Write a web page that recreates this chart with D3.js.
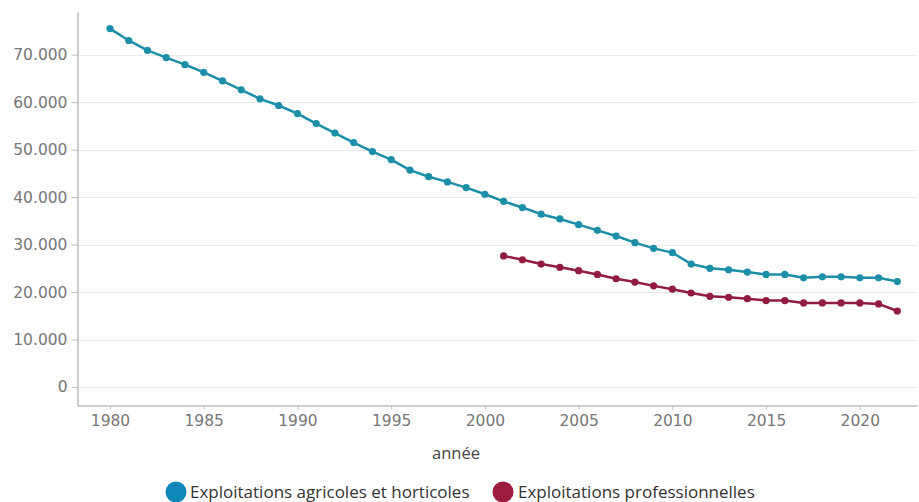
<!DOCTYPE html>
<html>
<head>
<meta charset="utf-8">
<script src="https://cdn.jsdelivr.net/npm/d3@7"></script>
<style>
  body { margin: 0; background: #fff; }
  svg { display: block; }
</style>
</head>
<body>
<svg id="chart" width="919" height="502"></svg>
<script>
// Number of farms per year
const yearsAll = d3.range(1980, 2023);
const agricoles = [
  75500, 73000, 70900, 69400, 67900, 66300, 64500, 62600, 60700, 59300,
  57600, 55500, 53500, 51500, 49600, 47900, 45700, 44300, 43200, 42000,
  40600, 39100, 37800, 36400, 35400, 34200, 33000, 31800, 30400, 29200,
  28300, 25900, 25000, 24700, 24200, 23700, 23700, 23000, 23200, 23200,
  23000, 23000, 22200
];
const yearsPro = d3.range(2001, 2023);
const professionnelles = [
  27600, 26800, 25900, 25200, 24500, 23700, 22800, 22100, 21300, 20600,
  19800, 19100, 18900, 18600, 18200, 18200, 17700, 17700, 17700, 17700,
  17500, 16000
];
const yTicks = [0, 10000, 20000, 30000, 40000, 50000, 60000, 70000];
const xTicks = [1980, 1985, 1990, 1995, 2000, 2005, 2010, 2015, 2020];
const seriesNames = ["Exploitations agricoles et horticoles", "Exploitations professionnelles"];
const xTitle = "année";

const lineColors = ["#1b8ea8", "#921b40"];
const legendColors = ["#1186b9", "#9c1c3e"];

const svg = d3.select("#chart");
const plotLeft = 77, plotRight = 917, plotTop = 12, plotBottom = 405;

const x = d3.scaleLinear().domain([1978.24, 2023.05]).range([plotLeft, plotRight]);
const y = d3.scaleLinear().domain([-3800, 79000]).range([plotBottom, plotTop]);

// horizontal gridlines
svg.append("g")
  .selectAll("line")
  .data(yTicks)
  .join("line")
  .attr("x1", plotLeft).attr("x2", plotRight)
  .attr("y1", d => Math.round(y(d)) + 0.5).attr("y2", d => Math.round(y(d)) + 0.5)
  .attr("stroke", "#ebebeb").attr("stroke-width", 1);

const fmt = d => d3.format(",")(d).replace(/,/g, ".");
const tickFont = "'DejaVu Sans', sans-serif";

// y axis
const gy = svg.append("g")
  .attr("transform", `translate(${plotLeft + 0.5},0)`)
  .call(d3.axisLeft(y).tickValues(yTicks).tickFormat(fmt).tickSize(6).tickSizeOuter(0).tickPadding(4));
gy.select(".domain").attr("stroke", "#bdbdbd").attr("stroke-width", 1.5);
gy.selectAll(".tick line").attr("stroke", "#bdbdbd");
gy.selectAll("text").attr("fill", "#777").style("font-family", tickFont).style("font-size", "15.5px");

// x axis
const gx = svg.append("g")
  .attr("transform", `translate(0,${plotBottom + 0.5})`)
  .call(d3.axisBottom(x).tickValues(xTicks).tickFormat(d3.format("d")).tickSize(4).tickSizeOuter(0).tickPadding(5));
gx.select(".domain").attr("stroke", "#bdbdbd").attr("stroke-width", 1.5);
gx.selectAll(".tick line").attr("stroke", "#bdbdbd");
gx.selectAll("text").attr("fill", "#777").style("font-family", tickFont).style("font-size", "15.5px");

// axis title
svg.append("text")
  .attr("x", 456).attr("y", 459)
  .attr("text-anchor", "middle")
  .attr("fill", "#444")
  .style("font-family", "'Open Sans', sans-serif").style("font-size", "16.5px")
  .text(xTitle);

// lines and points
const series = [
  yearsAll.map((yr, i) => ({ yr, v: agricoles[i] })),
  yearsPro.map((yr, i) => ({ yr, v: professionnelles[i] }))
];
const line = d3.line().x(d => x(d.yr)).y(d => y(d.v));

series.forEach((data, si) => {
  svg.append("path")
    .datum(data)
    .attr("fill", "none")
    .attr("stroke", lineColors[si])
    .attr("stroke-width", 2.5)
    .attr("stroke-linejoin", "round")
    .attr("d", line);
  svg.append("g")
    .selectAll("circle")
    .data(data)
    .join("circle")
    .attr("cx", d => x(d.yr)).attr("cy", d => y(d.v))
    .attr("r", 3.6)
    .attr("fill", lineColors[si]);
});

// legend
const legendItems = [
  { cx: 176, tx: 190 },
  { cx: 503, tx: 518 }
];
legendItems.forEach((it, i) => {
  svg.append("circle")
    .attr("cx", it.cx).attr("cy", 492).attr("r", 10.5)
    .attr("fill", legendColors[i]);
  svg.append("text")
    .attr("x", it.tx).attr("y", 498)
    .attr("fill", "#333")
    .style("font-family", "'Open Sans', sans-serif").style("font-size", "17px")
    .text(seriesNames[i]);
});
</script>
</body>
</html>
